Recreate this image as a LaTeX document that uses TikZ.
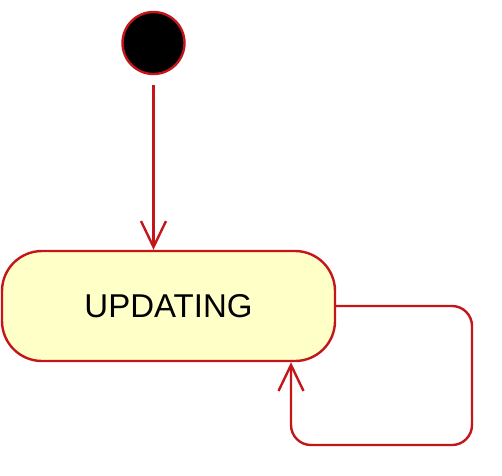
\documentclass[tikz,border=0pt]{standalone}
\usepackage{fontspec}
\setmainfont{Liberation Sans}
\usetikzlibrary{arrows.meta}

\definecolor{edgered}{RGB}{196,22,26}
\definecolor{statefill}{RGB}{255,255,200}

\tikzset{
  trans/.style={color=edgered, line width=2.4pt, -{Straight Barb[length=26pt,width=25pt,line width=2.4pt]}},
  statebox/.style={draw=edgered, fill=statefill, line width=2.4pt, rounded corners=40pt,
    minimum width=333pt, minimum height=110pt, inner sep=0pt, font=\fontsize{33}{39}\selectfont},
  initdot/.style={circle, draw=edgered, fill=black, line width=2.4pt, minimum size=62pt, inner sep=0pt}
}

\begin{document}
\begin{tikzpicture}[x=1pt,y=-1pt]

\useasboundingbox (0,0) rectangle (502,475);

\node[initdot] (init) at (153.5,43) {};
\node[statebox] (updating) at (168.5,306) {UPDATING};

\coordinate (A) at (153.5,85);
\coordinate (B) at (472,306);
\coordinate (C) at (472,445);
\coordinate (D) at (291,445);

\draw[trans] (A) -- (updating.north -| A);
\draw[trans, rounded corners=20pt] (updating.east |- B) -- (B) -- (C) -- (D) -- (D |- updating.south);

\end{tikzpicture}
\end{document}
